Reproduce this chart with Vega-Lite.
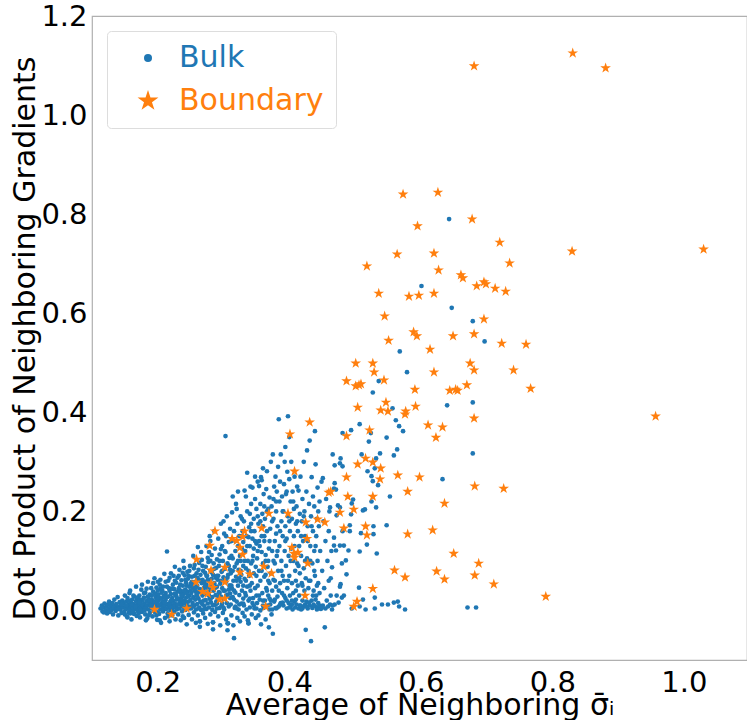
{
"$schema": "https://vega.github.io/schema/vega-lite/v6.json",
"width": 655, "height": 644,
"autosize": {"type": "none"},
"padding": {"left": 92, "top": 16, "right": 0, "bottom": 60},
"background": "white",
"config": {"view": {"stroke": "#b0b0b0", "strokeWidth": 1.2}, "font": "DejaVu Sans"},
"data": {"values": [
{"x":0.113,"y":0.004,"t":"Bulk"},{"x":0.115,"y":0.010,"t":"Bulk"},{"x":0.116,"y":-0.002,"t":"Bulk"},{"x":0.118,"y":0.006,"t":"Bulk"},{"x":0.119,"y":0.014,"t":"Bulk"},{"x":0.121,"y":0.000,"t":"Bulk"},{"x":0.122,"y":0.008,"t":"Bulk"},{"x":0.123,"y":-0.006,"t":"Bulk"},{"x":0.124,"y":0.012,"t":"Bulk"},{"x":0.125,"y":0.003,"t":"Bulk"},{"x":0.126,"y":0.018,"t":"Bulk"},{"x":0.127,"y":-0.003,"t":"Bulk"},{"x":0.128,"y":0.007,"t":"Bulk"},{"x":0.129,"y":0.011,"t":"Bulk"},{"x":0.130,"y":0.001,"t":"Bulk"},
{"x":0.131,"y":0.015,"t":"Bulk"},{"x":0.132,"y":-0.008,"t":"Bulk"},{"x":0.133,"y":0.005,"t":"Bulk"},{"x":0.134,"y":0.022,"t":"Bulk"},{"x":0.135,"y":0.009,"t":"Bulk"},{"x":0.136,"y":-0.001,"t":"Bulk"},{"x":0.137,"y":0.013,"t":"Bulk"},{"x":0.138,"y":0.004,"t":"Bulk"},{"x":0.139,"y":0.027,"t":"Bulk"},{"x":0.140,"y":-0.010,"t":"Bulk"},{"x":0.141,"y":0.008,"t":"Bulk"},{"x":0.142,"y":0.017,"t":"Bulk"},{"x":0.143,"y":0.002,"t":"Bulk"},{"x":0.144,"y":0.011,"t":"Bulk"},{"x":0.145,"y":-0.005,"t":"Bulk"},{"x":0.146,"y":0.020,"t":"Bulk"},{"x":0.147,"y":0.006,"t":"Bulk"},{"x":0.148,"y":0.014,"t":"Bulk"},{"x":0.149,"y":-0.002,"t":"Bulk"},{"x":0.150,"y":0.030,"t":"Bulk"},
{"x":0.151,"y":0.009,"t":"Bulk"},{"x":0.152,"y":0.003,"t":"Bulk"},{"x":0.152,"y":0.018,"t":"Bulk"},{"x":0.153,"y":-0.012,"t":"Bulk"},{"x":0.154,"y":0.025,"t":"Bulk"},{"x":0.155,"y":0.007,"t":"Bulk"},{"x":0.156,"y":0.012,"t":"Bulk"},{"x":0.156,"y":-0.004,"t":"Bulk"},{"x":0.157,"y":0.035,"t":"Bulk"},{"x":0.158,"y":0.001,"t":"Bulk"},{"x":0.159,"y":0.016,"t":"Bulk"},{"x":0.160,"y":0.008,"t":"Bulk"},{"x":0.160,"y":-0.018,"t":"Bulk"},{"x":0.161,"y":0.022,"t":"Bulk"},{"x":0.162,"y":0.005,"t":"Bulk"},{"x":0.163,"y":0.013,"t":"Bulk"},{"x":0.164,"y":-0.007,"t":"Bulk"},{"x":0.164,"y":0.028,"t":"Bulk"},{"x":0.165,"y":0.010,"t":"Bulk"},{"x":0.166,"y":0.002,"t":"Bulk"},{"x":0.167,"y":0.019,"t":"Bulk"},{"x":0.167,"y":0.048,"t":"Bulk"},{"x":0.168,"y":-0.011,"t":"Bulk"},{"x":0.169,"y":0.006,"t":"Bulk"},{"x":0.169,"y":0.015,"t":"Bulk"},{"x":0.170,"y":0.024,"t":"Bulk"},{"x":0.170,"y":-0.002,"t":"Bulk"},{"x":0.158,"y":0.040,"t":"Bulk"},
{"x":0.171,"y":0.011,"t":"Bulk"},{"x":0.172,"y":0.003,"t":"Bulk"},{"x":0.172,"y":0.030,"t":"Bulk"},{"x":0.173,"y":-0.014,"t":"Bulk"},{"x":0.174,"y":0.017,"t":"Bulk"},{"x":0.175,"y":0.007,"t":"Bulk"},{"x":0.175,"y":0.042,"t":"Bulk"},{"x":0.176,"y":-0.003,"t":"Bulk"},{"x":0.177,"y":0.021,"t":"Bulk"},{"x":0.178,"y":0.009,"t":"Bulk"},{"x":0.178,"y":0.001,"t":"Bulk"},{"x":0.179,"y":0.026,"t":"Bulk"},{"x":0.180,"y":0.014,"t":"Bulk"},{"x":0.181,"y":-0.008,"t":"Bulk"},{"x":0.181,"y":0.036,"t":"Bulk"},{"x":0.182,"y":0.005,"t":"Bulk"},{"x":0.183,"y":0.019,"t":"Bulk"},{"x":0.184,"y":0.010,"t":"Bulk"},{"x":0.184,"y":-0.016,"t":"Bulk"},{"x":0.185,"y":0.058,"t":"Bulk"},{"x":0.186,"y":0.002,"t":"Bulk"},{"x":0.186,"y":0.024,"t":"Bulk"},{"x":0.187,"y":0.013,"t":"Bulk"},{"x":0.188,"y":-0.005,"t":"Bulk"},{"x":0.188,"y":0.032,"t":"Bulk"},{"x":0.189,"y":0.008,"t":"Bulk"},{"x":0.190,"y":0.017,"t":"Bulk"},{"x":0.190,"y":0.045,"t":"Bulk"},{"x":0.176,"y":0.052,"t":"Bulk"},{"x":0.182,"y":-0.020,"t":"Bulk"},{"x":0.174,"y":0.000,"t":"Bulk"},{"x":0.185,"y":0.028,"t":"Bulk"},
{"x":0.191,"y":0.004,"t":"Bulk"},{"x":0.191,"y":0.022,"t":"Bulk"},{"x":0.192,"y":-0.012,"t":"Bulk"},{"x":0.193,"y":0.012,"t":"Bulk"},{"x":0.193,"y":0.038,"t":"Bulk"},{"x":0.194,"y":0.001,"t":"Bulk"},{"x":0.195,"y":0.017,"t":"Bulk"},{"x":0.195,"y":0.065,"t":"Bulk"},{"x":0.196,"y":-0.004,"t":"Bulk"},{"x":0.197,"y":0.027,"t":"Bulk"},{"x":0.197,"y":0.009,"t":"Bulk"},{"x":0.198,"y":0.046,"t":"Bulk"},{"x":0.199,"y":0.014,"t":"Bulk"},{"x":0.199,"y":-0.019,"t":"Bulk"},{"x":0.200,"y":0.006,"t":"Bulk"},{"x":0.201,"y":0.032,"t":"Bulk"},{"x":0.201,"y":0.020,"t":"Bulk"},{"x":0.202,"y":-0.007,"t":"Bulk"},{"x":0.203,"y":0.011,"t":"Bulk"},{"x":0.203,"y":0.052,"t":"Bulk"},{"x":0.204,"y":0.002,"t":"Bulk"},{"x":0.205,"y":0.024,"t":"Bulk"},{"x":0.205,"y":-0.025,"t":"Bulk"},{"x":0.206,"y":0.015,"t":"Bulk"},{"x":0.207,"y":0.040,"t":"Bulk"},{"x":0.207,"y":0.007,"t":"Bulk"},{"x":0.208,"y":-0.002,"t":"Bulk"},{"x":0.209,"y":0.029,"t":"Bulk"},{"x":0.209,"y":0.018,"t":"Bulk"},{"x":0.210,"y":0.074,"t":"Bulk"},{"x":0.210,"y":0.003,"t":"Bulk"},{"x":0.196,"y":0.034,"t":"Bulk"},{"x":0.200,"y":0.058,"t":"Bulk"},{"x":0.204,"y":0.044,"t":"Bulk"},{"x":0.198,"y":-0.010,"t":"Bulk"},{"x":0.206,"y":0.036,"t":"Bulk"},{"x":0.202,"y":0.026,"t":"Bulk"},{"x":0.208,"y":0.012,"t":"Bulk"},
{"x":0.211,"y":0.010,"t":"Bulk"},{"x":0.211,"y":-0.015,"t":"Bulk"},{"x":0.212,"y":0.035,"t":"Bulk"},{"x":0.212,"y":0.021,"t":"Bulk"},{"x":0.213,"y":0.003,"t":"Bulk"},{"x":0.214,"y":0.119,"t":"Bulk"},{"x":0.214,"y":0.048,"t":"Bulk"},{"x":0.215,"y":0.013,"t":"Bulk"},{"x":0.215,"y":-0.006,"t":"Bulk"},{"x":0.216,"y":0.028,"t":"Bulk"},{"x":0.216,"y":0.060,"t":"Bulk"},{"x":0.217,"y":0.007,"t":"Bulk"},{"x":0.218,"y":0.040,"t":"Bulk"},{"x":0.218,"y":-0.022,"t":"Bulk"},{"x":0.219,"y":0.017,"t":"Bulk"},{"x":0.219,"y":0.001,"t":"Bulk"},{"x":0.220,"y":0.033,"t":"Bulk"},{"x":0.220,"y":0.075,"t":"Bulk"},{"x":0.221,"y":0.011,"t":"Bulk"},{"x":0.222,"y":-0.010,"t":"Bulk"},{"x":0.222,"y":0.025,"t":"Bulk"},{"x":0.223,"y":0.052,"t":"Bulk"},{"x":0.223,"y":0.005,"t":"Bulk"},{"x":0.224,"y":0.019,"t":"Bulk"},{"x":0.225,"y":-0.003,"t":"Bulk"},{"x":0.225,"y":0.043,"t":"Bulk"},{"x":0.226,"y":0.014,"t":"Bulk"},{"x":0.226,"y":0.088,"t":"Bulk"},{"x":0.227,"y":0.030,"t":"Bulk"},{"x":0.227,"y":-0.018,"t":"Bulk"},{"x":0.228,"y":0.008,"t":"Bulk"},{"x":0.228,"y":0.056,"t":"Bulk"},{"x":0.229,"y":0.022,"t":"Bulk"},{"x":0.229,"y":0.002,"t":"Bulk"},{"x":0.230,"y":0.038,"t":"Bulk"},{"x":0.230,"y":0.066,"t":"Bulk"},{"x":0.213,"y":0.027,"t":"Bulk"},{"x":0.217,"y":0.045,"t":"Bulk"},{"x":0.221,"y":0.002,"t":"Bulk"},{"x":0.224,"y":0.070,"t":"Bulk"},{"x":0.218,"y":0.012,"t":"Bulk"},{"x":0.226,"y":0.034,"t":"Bulk"},
{"x":0.231,"y":0.012,"t":"Bulk"},{"x":0.231,"y":-0.008,"t":"Bulk"},{"x":0.232,"y":0.045,"t":"Bulk"},{"x":0.232,"y":0.024,"t":"Bulk"},{"x":0.233,"y":0.004,"t":"Bulk"},{"x":0.233,"y":0.082,"t":"Bulk"},{"x":0.234,"y":0.017,"t":"Bulk"},{"x":0.235,"y":-0.020,"t":"Bulk"},{"x":0.235,"y":0.036,"t":"Bulk"},{"x":0.236,"y":0.061,"t":"Bulk"},{"x":0.236,"y":0.009,"t":"Bulk"},{"x":0.237,"y":0.027,"t":"Bulk"},{"x":0.237,"y":-0.002,"t":"Bulk"},{"x":0.238,"y":0.050,"t":"Bulk"},{"x":0.238,"y":0.014,"t":"Bulk"},{"x":0.239,"y":0.100,"t":"Bulk"},{"x":0.239,"y":0.033,"t":"Bulk"},{"x":0.240,"y":0.006,"t":"Bulk"},{"x":0.240,"y":-0.015,"t":"Bulk"},{"x":0.241,"y":0.071,"t":"Bulk"},{"x":0.241,"y":0.020,"t":"Bulk"},{"x":0.242,"y":0.042,"t":"Bulk"},{"x":0.242,"y":0.001,"t":"Bulk"},{"x":0.243,"y":0.056,"t":"Bulk"},{"x":0.243,"y":0.026,"t":"Bulk"},{"x":0.244,"y":-0.028,"t":"Bulk"},{"x":0.244,"y":0.011,"t":"Bulk"},{"x":0.245,"y":0.078,"t":"Bulk"},{"x":0.245,"y":0.038,"t":"Bulk"},{"x":0.246,"y":0.004,"t":"Bulk"},{"x":0.246,"y":0.064,"t":"Bulk"},{"x":0.247,"y":0.018,"t":"Bulk"},{"x":0.247,"y":-0.009,"t":"Bulk"},{"x":0.248,"y":0.048,"t":"Bulk"},{"x":0.248,"y":0.030,"t":"Bulk"},{"x":0.249,"y":0.008,"t":"Bulk"},{"x":0.249,"y":0.090,"t":"Bulk"},{"x":0.250,"y":0.022,"t":"Bulk"},{"x":0.250,"y":0.054,"t":"Bulk"},{"x":0.234,"y":0.040,"t":"Bulk"},{"x":0.236,"y":0.020,"t":"Bulk"},{"x":0.240,"y":0.086,"t":"Bulk"},{"x":0.244,"y":0.035,"t":"Bulk"},{"x":0.238,"y":-0.012,"t":"Bulk"},{"x":0.247,"y":0.070,"t":"Bulk"},{"x":0.242,"y":0.015,"t":"Bulk"},
{"x":0.251,"y":0.005,"t":"Bulk"},{"x":0.251,"y":0.035,"t":"Bulk"},{"x":0.252,"y":-0.018,"t":"Bulk"},{"x":0.252,"y":0.068,"t":"Bulk"},{"x":0.253,"y":0.015,"t":"Bulk"},{"x":0.253,"y":0.046,"t":"Bulk"},{"x":0.254,"y":0.027,"t":"Bulk"},{"x":0.254,"y":0.110,"t":"Bulk"},{"x":0.255,"y":-0.004,"t":"Bulk"},{"x":0.255,"y":0.085,"t":"Bulk"},{"x":0.256,"y":0.010,"t":"Bulk"},{"x":0.256,"y":0.040,"t":"Bulk"},{"x":0.257,"y":0.058,"t":"Bulk"},{"x":0.257,"y":0.022,"t":"Bulk"},{"x":0.258,"y":-0.025,"t":"Bulk"},{"x":0.258,"y":0.002,"t":"Bulk"},{"x":0.259,"y":0.075,"t":"Bulk"},{"x":0.259,"y":0.032,"t":"Bulk"},{"x":0.260,"y":0.050,"t":"Bulk"},{"x":0.260,"y":0.013,"t":"Bulk"},{"x":0.261,"y":0.128,"t":"Bulk"},{"x":0.261,"y":-0.010,"t":"Bulk"},{"x":0.262,"y":0.063,"t":"Bulk"},{"x":0.262,"y":0.024,"t":"Bulk"},{"x":0.263,"y":0.096,"t":"Bulk"},{"x":0.263,"y":0.006,"t":"Bulk"},{"x":0.264,"y":0.043,"t":"Bulk"},{"x":0.264,"y":-0.022,"t":"Bulk"},{"x":0.265,"y":0.018,"t":"Bulk"},{"x":0.265,"y":0.072,"t":"Bulk"},{"x":0.266,"y":0.036,"t":"Bulk"},{"x":0.266,"y":0.001,"t":"Bulk"},{"x":0.267,"y":0.055,"t":"Bulk"},{"x":0.267,"y":0.102,"t":"Bulk"},{"x":0.268,"y":0.012,"t":"Bulk"},{"x":0.268,"y":0.030,"t":"Bulk"},{"x":0.269,"y":-0.006,"t":"Bulk"},{"x":0.269,"y":0.080,"t":"Bulk"},{"x":0.270,"y":0.045,"t":"Bulk"},{"x":0.270,"y":0.020,"t":"Bulk"},{"x":0.264,"y":-0.033,"t":"Bulk"},{"x":0.256,"y":0.092,"t":"Bulk"},{"x":0.260,"y":0.066,"t":"Bulk"},{"x":0.266,"y":0.118,"t":"Bulk"},{"x":0.253,"y":0.052,"t":"Bulk"},{"x":0.258,"y":0.038,"t":"Bulk"},{"x":0.262,"y":0.004,"t":"Bulk"},{"x":0.268,"y":0.062,"t":"Bulk"},
{"x":0.271,"y":0.009,"t":"Bulk"},{"x":0.271,"y":0.058,"t":"Bulk"},{"x":0.272,"y":-0.015,"t":"Bulk"},{"x":0.272,"y":0.034,"t":"Bulk"},{"x":0.273,"y":0.088,"t":"Bulk"},{"x":0.273,"y":0.021,"t":"Bulk"},{"x":0.274,"y":0.003,"t":"Bulk"},{"x":0.274,"y":0.130,"t":"Bulk"},{"x":0.275,"y":0.046,"t":"Bulk"},{"x":0.275,"y":0.070,"t":"Bulk"},{"x":0.276,"y":-0.027,"t":"Bulk"},{"x":0.276,"y":0.014,"t":"Bulk"},{"x":0.277,"y":0.098,"t":"Bulk"},{"x":0.277,"y":0.037,"t":"Bulk"},{"x":0.278,"y":0.006,"t":"Bulk"},{"x":0.278,"y":0.062,"t":"Bulk"},{"x":0.279,"y":0.024,"t":"Bulk"},{"x":0.279,"y":0.150,"t":"Bulk"},{"x":0.280,"y":-0.008,"t":"Bulk"},{"x":0.280,"y":0.080,"t":"Bulk"},{"x":0.281,"y":0.043,"t":"Bulk"},{"x":0.281,"y":0.016,"t":"Bulk"},{"x":0.282,"y":0.112,"t":"Bulk"},{"x":0.282,"y":0.051,"t":"Bulk"},{"x":0.283,"y":0.001,"t":"Bulk"},{"x":0.283,"y":0.027,"t":"Bulk"},{"x":0.284,"y":-0.024,"t":"Bulk"},{"x":0.284,"y":0.072,"t":"Bulk"},{"x":0.285,"y":0.040,"t":"Bulk"},{"x":0.285,"y":0.095,"t":"Bulk"},{"x":0.286,"y":0.011,"t":"Bulk"},{"x":0.286,"y":0.055,"t":"Bulk"},{"x":0.287,"y":-0.003,"t":"Bulk"},{"x":0.287,"y":0.125,"t":"Bulk"},{"x":0.288,"y":0.031,"t":"Bulk"},{"x":0.288,"y":0.066,"t":"Bulk"},{"x":0.289,"y":0.018,"t":"Bulk"},{"x":0.289,"y":0.086,"t":"Bulk"},{"x":0.290,"y":0.048,"t":"Bulk"},{"x":0.290,"y":0.004,"t":"Bulk"},{"x":0.284,"y":-0.038,"t":"Bulk"},{"x":0.276,"y":0.106,"t":"Bulk"},{"x":0.280,"y":0.140,"t":"Bulk"},{"x":0.274,"y":0.052,"t":"Bulk"},{"x":0.278,"y":0.118,"t":"Bulk"},{"x":0.286,"y":0.160,"t":"Bulk"},{"x":0.282,"y":0.077,"t":"Bulk"},{"x":0.288,"y":0.012,"t":"Bulk"},{"x":0.272,"y":0.076,"t":"Bulk"},{"x":0.290,"y":0.103,"t":"Bulk"},
{"x":0.291,"y":0.020,"t":"Bulk"},{"x":0.291,"y":0.062,"t":"Bulk"},{"x":0.292,"y":-0.012,"t":"Bulk"},{"x":0.292,"y":0.145,"t":"Bulk"},{"x":0.293,"y":0.037,"t":"Bulk"},{"x":0.293,"y":0.090,"t":"Bulk"},{"x":0.294,"y":0.005,"t":"Bulk"},{"x":0.294,"y":0.113,"t":"Bulk"},{"x":0.295,"y":0.054,"t":"Bulk"},{"x":0.295,"y":-0.030,"t":"Bulk"},{"x":0.296,"y":0.028,"t":"Bulk"},{"x":0.296,"y":0.175,"t":"Bulk"},{"x":0.297,"y":0.078,"t":"Bulk"},{"x":0.297,"y":0.010,"t":"Bulk"},{"x":0.298,"y":0.130,"t":"Bulk"},{"x":0.298,"y":0.045,"t":"Bulk"},{"x":0.299,"y":-0.005,"t":"Bulk"},{"x":0.299,"y":0.100,"t":"Bulk"},{"x":0.300,"y":0.067,"t":"Bulk"},{"x":0.300,"y":0.023,"t":"Bulk"},{"x":0.301,"y":0.155,"t":"Bulk"},{"x":0.301,"y":0.002,"t":"Bulk"},{"x":0.302,"y":0.084,"t":"Bulk"},{"x":0.302,"y":0.040,"t":"Bulk"},{"x":0.303,"y":0.352,"t":"Bulk"},{"x":0.303,"y":0.118,"t":"Bulk"},{"x":0.304,"y":-0.018,"t":"Bulk"},{"x":0.304,"y":0.058,"t":"Bulk"},{"x":0.305,"y":0.015,"t":"Bulk"},{"x":0.305,"y":0.190,"t":"Bulk"},{"x":0.306,"y":0.095,"t":"Bulk"},{"x":0.306,"y":0.032,"t":"Bulk"},{"x":0.307,"y":-0.026,"t":"Bulk"},{"x":0.307,"y":0.072,"t":"Bulk"},{"x":0.308,"y":0.138,"t":"Bulk"},{"x":0.308,"y":0.008,"t":"Bulk"},{"x":0.309,"y":0.050,"t":"Bulk"},{"x":0.309,"y":0.106,"t":"Bulk"},{"x":0.310,"y":0.025,"t":"Bulk"},{"x":0.310,"y":0.165,"t":"Bulk"},{"x":0.306,"y":-0.040,"t":"Bulk"},{"x":0.296,"y":0.124,"t":"Bulk"},{"x":0.300,"y":0.180,"t":"Bulk"},{"x":0.304,"y":0.150,"t":"Bulk"},{"x":0.292,"y":0.070,"t":"Bulk"},{"x":0.298,"y":0.014,"t":"Bulk"},{"x":0.308,"y":0.042,"t":"Bulk"},{"x":0.302,"y":0.060,"t":"Bulk"},{"x":0.294,"y":0.035,"t":"Bulk"},{"x":0.310,"y":0.082,"t":"Bulk"},
{"x":0.311,"y":0.012,"t":"Bulk"},{"x":0.311,"y":0.075,"t":"Bulk"},{"x":0.312,"y":0.140,"t":"Bulk"},{"x":0.312,"y":-0.010,"t":"Bulk"},{"x":0.313,"y":0.044,"t":"Bulk"},{"x":0.313,"y":0.198,"t":"Bulk"},{"x":0.314,"y":0.105,"t":"Bulk"},{"x":0.314,"y":0.027,"t":"Bulk"},{"x":0.315,"y":0.060,"t":"Bulk"},{"x":0.315,"y":-0.030,"t":"Bulk"},{"x":0.316,"y":-0.056,"t":"Bulk"},{"x":0.316,"y":0.160,"t":"Bulk"},{"x":0.317,"y":0.088,"t":"Bulk"},{"x":0.317,"y":0.005,"t":"Bulk"},{"x":0.318,"y":0.120,"t":"Bulk"},{"x":0.318,"y":0.036,"t":"Bulk"},{"x":0.319,"y":0.215,"t":"Bulk"},{"x":0.319,"y":0.068,"t":"Bulk"},{"x":0.320,"y":0.018,"t":"Bulk"},{"x":0.320,"y":0.095,"t":"Bulk"},{"x":0.321,"y":-0.015,"t":"Bulk"},{"x":0.321,"y":0.175,"t":"Bulk"},{"x":0.322,"y":0.050,"t":"Bulk"},{"x":0.322,"y":0.130,"t":"Bulk"},{"x":0.323,"y":0.002,"t":"Bulk"},{"x":0.323,"y":0.082,"t":"Bulk"},{"x":0.324,"y":0.031,"t":"Bulk"},{"x":0.324,"y":0.150,"t":"Bulk"},{"x":0.325,"y":-0.022,"t":"Bulk"},{"x":0.325,"y":0.110,"t":"Bulk"},{"x":0.326,"y":0.058,"t":"Bulk"},{"x":0.326,"y":0.190,"t":"Bulk"},{"x":0.327,"y":0.014,"t":"Bulk"},{"x":0.327,"y":0.072,"t":"Bulk"},{"x":0.328,"y":0.040,"t":"Bulk"},{"x":0.328,"y":0.125,"t":"Bulk"},{"x":0.329,"y":-0.005,"t":"Bulk"},{"x":0.329,"y":0.160,"t":"Bulk"},{"x":0.330,"y":0.090,"t":"Bulk"},{"x":0.330,"y":0.024,"t":"Bulk"},{"x":0.314,"y":0.230,"t":"Bulk"},{"x":0.320,"y":0.205,"t":"Bulk"},{"x":0.326,"y":0.100,"t":"Bulk"},{"x":0.312,"y":0.050,"t":"Bulk"},{"x":0.318,"y":0.008,"t":"Bulk"},{"x":0.324,"y":0.065,"t":"Bulk"},{"x":0.328,"y":0.185,"t":"Bulk"},{"x":0.316,"y":0.022,"t":"Bulk"},{"x":0.322,"y":0.240,"t":"Bulk"},{"x":0.330,"y":0.138,"t":"Bulk"},
{"x":0.331,"y":0.010,"t":"Bulk"},{"x":0.331,"y":0.180,"t":"Bulk"},{"x":0.332,"y":0.064,"t":"Bulk"},{"x":0.332,"y":-0.012,"t":"Bulk"},{"x":0.333,"y":0.120,"t":"Bulk"},{"x":0.333,"y":0.035,"t":"Bulk"},{"x":0.334,"y":0.230,"t":"Bulk"},{"x":0.334,"y":0.085,"t":"Bulk"},{"x":0.335,"y":0.002,"t":"Bulk"},{"x":0.335,"y":0.150,"t":"Bulk"},{"x":0.336,"y":0.048,"t":"Bulk"},{"x":0.336,"y":0.200,"t":"Bulk"},{"x":0.337,"y":-0.020,"t":"Bulk"},{"x":0.337,"y":0.100,"t":"Bulk"},{"x":0.338,"y":-0.026,"t":"Bulk"},{"x":0.338,"y":0.020,"t":"Bulk"},{"x":0.339,"y":0.168,"t":"Bulk"},{"x":0.339,"y":0.070,"t":"Bulk"},{"x":0.340,"y":0.130,"t":"Bulk"},{"x":0.340,"y":0.006,"t":"Bulk"},{"x":0.341,"y":0.250,"t":"Bulk"},{"x":0.341,"y":0.040,"t":"Bulk"},{"x":0.342,"y":0.095,"t":"Bulk"},{"x":0.342,"y":0.215,"t":"Bulk"},{"x":0.343,"y":-0.008,"t":"Bulk"},{"x":0.343,"y":0.055,"t":"Bulk"},{"x":0.344,"y":0.145,"t":"Bulk"},{"x":0.344,"y":0.248,"t":"Bulk"},{"x":0.345,"y":0.025,"t":"Bulk"},{"x":0.345,"y":0.110,"t":"Bulk"},{"x":0.346,"y":0.185,"t":"Bulk"},{"x":0.346,"y":0.075,"t":"Bulk"},{"x":0.347,"y":0.004,"t":"Bulk"},{"x":0.347,"y":0.160,"t":"Bulk"},{"x":0.348,"y":0.045,"t":"Bulk"},{"x":0.348,"y":0.225,"t":"Bulk"},{"x":0.349,"y":0.088,"t":"Bulk"},{"x":0.349,"y":-0.015,"t":"Bulk"},{"x":0.350,"y":0.135,"t":"Bulk"},{"x":0.350,"y":0.030,"t":"Bulk"},{"x":0.332,"y":0.242,"t":"Bulk"},{"x":0.336,"y":0.278,"t":"Bulk"},{"x":0.340,"y":0.195,"t":"Bulk"},{"x":0.344,"y":0.015,"t":"Bulk"},{"x":0.348,"y":0.270,"t":"Bulk"},{"x":0.334,"y":0.060,"t":"Bulk"},{"x":0.342,"y":0.175,"t":"Bulk"},{"x":0.346,"y":0.125,"t":"Bulk"},{"x":0.338,"y":0.148,"t":"Bulk"},{"x":0.350,"y":0.205,"t":"Bulk"},
{"x":0.351,"y":0.015,"t":"Bulk"},{"x":0.351,"y":0.105,"t":"Bulk"},{"x":0.352,"y":0.260,"t":"Bulk"},{"x":0.352,"y":0.050,"t":"Bulk"},{"x":0.353,"y":-0.010,"t":"Bulk"},{"x":0.353,"y":0.175,"t":"Bulk"},{"x":0.354,"y":0.251,"t":"Bulk"},{"x":0.354,"y":0.080,"t":"Bulk"},{"x":0.355,"y":0.130,"t":"Bulk"},{"x":0.355,"y":0.022,"t":"Bulk"},{"x":0.356,"y":0.215,"t":"Bulk"},{"x":0.356,"y":0.060,"t":"Bulk"},{"x":0.357,"y":0.269,"t":"Bulk"},{"x":0.357,"y":-0.028,"t":"Bulk"},{"x":0.358,"y":0.263,"t":"Bulk"},{"x":0.358,"y":0.150,"t":"Bulk"},{"x":0.359,"y":0.035,"t":"Bulk"},{"x":0.359,"y":0.195,"t":"Bulk"},{"x":0.360,"y":0.287,"t":"Bulk"},{"x":0.360,"y":0.095,"t":"Bulk"},{"x":0.361,"y":0.005,"t":"Bulk"},{"x":0.361,"y":0.235,"t":"Bulk"},{"x":0.362,"y":0.068,"t":"Bulk"},{"x":0.362,"y":0.140,"t":"Bulk"},{"x":0.363,"y":0.020,"t":"Bulk"},{"x":0.363,"y":0.185,"t":"Bulk"},{"x":0.364,"y":0.112,"t":"Bulk"},{"x":0.364,"y":-0.018,"t":"Bulk"},{"x":0.365,"y":0.245,"t":"Bulk"},{"x":0.365,"y":0.045,"t":"Bulk"},{"x":0.366,"y":0.281,"t":"Bulk"},{"x":0.366,"y":0.160,"t":"Bulk"},{"x":0.367,"y":0.010,"t":"Bulk"},{"x":0.367,"y":0.088,"t":"Bulk"},{"x":0.368,"y":0.205,"t":"Bulk"},{"x":0.368,"y":0.030,"t":"Bulk"},{"x":0.369,"y":-0.034,"t":"Bulk"},{"x":0.369,"y":0.125,"t":"Bulk"},{"x":0.370,"y":0.055,"t":"Bulk"},{"x":0.370,"y":0.228,"t":"Bulk"},{"x":0.352,"y":0.190,"t":"Bulk"},{"x":0.356,"y":0.000,"t":"Bulk"},{"x":0.360,"y":0.170,"t":"Bulk"},{"x":0.364,"y":0.072,"t":"Bulk"},{"x":0.358,"y":0.118,"t":"Bulk"},{"x":0.362,"y":0.210,"t":"Bulk"},{"x":0.366,"y":0.040,"t":"Bulk"},{"x":0.354,"y":0.140,"t":"Bulk"},{"x":0.368,"y":0.100,"t":"Bulk"},{"x":0.370,"y":0.002,"t":"Bulk"},
{"x":0.371,"y":0.165,"t":"Bulk"},{"x":0.371,"y":0.012,"t":"Bulk"},{"x":0.372,"y":0.300,"t":"Bulk"},{"x":0.372,"y":0.075,"t":"Bulk"},{"x":0.373,"y":0.210,"t":"Bulk"},{"x":0.373,"y":-0.008,"t":"Bulk"},{"x":0.374,"y":0.120,"t":"Bulk"},{"x":0.374,"y":0.040,"t":"Bulk"},{"x":0.375,"y":0.315,"t":"Bulk"},{"x":0.375,"y":-0.047,"t":"Bulk"},{"x":0.376,"y":0.185,"t":"Bulk"},{"x":0.376,"y":0.062,"t":"Bulk"},{"x":0.377,"y":0.250,"t":"Bulk"},{"x":0.377,"y":0.018,"t":"Bulk"},{"x":0.378,"y":0.140,"t":"Bulk"},{"x":0.378,"y":0.095,"t":"Bulk"},{"x":0.379,"y":0.270,"t":"Bulk"},{"x":0.379,"y":0.005,"t":"Bulk"},{"x":0.380,"y":0.200,"t":"Bulk"},{"x":0.380,"y":0.048,"t":"Bulk"},{"x":0.381,"y":0.110,"t":"Bulk"},{"x":0.381,"y":0.240,"t":"Bulk"},{"x":0.382,"y":0.028,"t":"Bulk"},{"x":0.382,"y":0.170,"t":"Bulk"},{"x":0.383,"y":0.080,"t":"Bulk"},{"x":0.383,"y":0.290,"t":"Bulk"},{"x":0.384,"y":0.386,"t":"Bulk"},{"x":0.384,"y":0.008,"t":"Bulk"},{"x":0.385,"y":0.220,"t":"Bulk"},{"x":0.385,"y":0.130,"t":"Bulk"},{"x":0.386,"y":0.055,"t":"Bulk"},{"x":0.386,"y":0.260,"t":"Bulk"},{"x":0.387,"y":0.315,"t":"Bulk"},{"x":0.387,"y":0.015,"t":"Bulk"},{"x":0.388,"y":0.180,"t":"Bulk"},{"x":0.388,"y":0.100,"t":"Bulk"},{"x":0.389,"y":0.035,"t":"Bulk"},{"x":0.389,"y":0.230,"t":"Bulk"},{"x":0.390,"y":0.150,"t":"Bulk"},{"x":0.390,"y":0.070,"t":"Bulk"},{"x":0.374,"y":0.002,"t":"Bulk"},{"x":0.378,"y":0.022,"t":"Bulk"},{"x":0.382,"y":0.006,"t":"Bulk"},{"x":0.386,"y":0.012,"t":"Bulk"},{"x":0.380,"y":0.155,"t":"Bulk"},{"x":0.376,"y":0.225,"t":"Bulk"},
{"x":0.391,"y":0.010,"t":"Bulk"},{"x":0.391,"y":0.200,"t":"Bulk"},{"x":0.392,"y":0.255,"t":"Bulk"},{"x":0.392,"y":0.060,"t":"Bulk"},{"x":0.393,"y":0.120,"t":"Bulk"},{"x":0.393,"y":0.300,"t":"Bulk"},{"x":0.394,"y":0.025,"t":"Bulk"},{"x":0.394,"y":0.170,"t":"Bulk"},{"x":0.395,"y":0.090,"t":"Bulk"},{"x":0.395,"y":0.235,"t":"Bulk"},{"x":0.396,"y":0.004,"t":"Bulk"},{"x":0.396,"y":0.145,"t":"Bulk"},{"x":0.397,"y":0.280,"t":"Bulk"},{"x":0.397,"y":0.045,"t":"Bulk"},{"x":0.398,"y":0.392,"t":"Bulk"},{"x":0.398,"y":0.190,"t":"Bulk"},{"x":0.399,"y":0.110,"t":"Bulk"},{"x":0.399,"y":0.015,"t":"Bulk"},{"x":0.400,"y":0.265,"t":"Bulk"},{"x":0.400,"y":0.070,"t":"Bulk"},{"x":0.401,"y":0.160,"t":"Bulk"},{"x":0.401,"y":0.030,"t":"Bulk"},{"x":0.402,"y":0.220,"t":"Bulk"},{"x":0.402,"y":0.008,"t":"Bulk"},{"x":0.403,"y":0.125,"t":"Bulk"},{"x":0.403,"y":0.300,"t":"Bulk"},{"x":0.404,"y":0.055,"t":"Bulk"},{"x":0.404,"y":0.185,"t":"Bulk"},{"x":0.405,"y":0.240,"t":"Bulk"},{"x":0.405,"y":0.002,"t":"Bulk"},{"x":0.406,"y":0.100,"t":"Bulk"},{"x":0.406,"y":0.035,"t":"Bulk"},{"x":0.407,"y":0.205,"t":"Bulk"},{"x":0.407,"y":0.150,"t":"Bulk"},{"x":0.408,"y":0.018,"t":"Bulk"},{"x":0.408,"y":0.270,"t":"Bulk"},{"x":0.409,"y":0.080,"t":"Bulk"},{"x":0.409,"y":0.006,"t":"Bulk"},{"x":0.410,"y":0.175,"t":"Bulk"},{"x":0.410,"y":0.040,"t":"Bulk"},{"x":0.394,"y":0.330,"t":"Bulk"},{"x":0.400,"y":0.350,"t":"Bulk"},{"x":0.404,"y":0.012,"t":"Bulk"},{"x":0.396,"y":0.020,"t":"Bulk"},
{"x":0.411,"y":0.210,"t":"Bulk"},{"x":0.411,"y":0.012,"t":"Bulk"},{"x":0.412,"y":0.095,"t":"Bulk"},{"x":0.412,"y":0.250,"t":"Bulk"},{"x":0.413,"y":0.050,"t":"Bulk"},{"x":0.413,"y":0.160,"t":"Bulk"},{"x":0.414,"y":0.004,"t":"Bulk"},{"x":0.414,"y":0.242,"t":"Bulk"},{"x":0.415,"y":0.130,"t":"Bulk"},{"x":0.415,"y":0.030,"t":"Bulk"},{"x":0.416,"y":0.195,"t":"Bulk"},{"x":0.416,"y":0.075,"t":"Bulk"},{"x":0.417,"y":0.010,"t":"Bulk"},{"x":0.417,"y":0.270,"t":"Bulk"},{"x":0.418,"y":0.110,"t":"Bulk"},{"x":0.418,"y":0.002,"t":"Bulk"},{"x":0.419,"y":0.180,"t":"Bulk"},{"x":0.419,"y":0.055,"t":"Bulk"},{"x":0.420,"y":0.225,"t":"Bulk"},{"x":0.420,"y":0.020,"t":"Bulk"},{"x":0.421,"y":0.140,"t":"Bulk"},{"x":0.421,"y":0.008,"t":"Bulk"},{"x":0.422,"y":0.085,"t":"Bulk"},{"x":0.422,"y":0.300,"t":"Bulk"},{"x":0.423,"y":0.040,"t":"Bulk"},{"x":0.423,"y":0.200,"t":"Bulk"},{"x":0.424,"y":0.012,"t":"Bulk"},{"x":0.424,"y":0.150,"t":"Bulk"},{"x":0.425,"y":-0.039,"t":"Bulk"},{"x":0.425,"y":0.065,"t":"Bulk"},{"x":0.426,"y":0.240,"t":"Bulk"},{"x":0.426,"y":0.018,"t":"Bulk"},{"x":0.427,"y":0.323,"t":"Bulk"},{"x":0.427,"y":0.105,"t":"Bulk"},{"x":0.428,"y":0.004,"t":"Bulk"},{"x":0.428,"y":0.170,"t":"Bulk"},{"x":0.429,"y":0.045,"t":"Bulk"},{"x":0.430,"y":0.215,"t":"Bulk"},
{"x":0.431,"y":0.343,"t":"Bulk"},{"x":0.431,"y":0.010,"t":"Bulk"},{"x":0.432,"y":0.130,"t":"Bulk"},{"x":0.432,"y":0.060,"t":"Bulk"},{"x":0.433,"y":-0.062,"t":"Bulk"},{"x":0.433,"y":0.190,"t":"Bulk"},{"x":0.434,"y":0.269,"t":"Bulk"},{"x":0.434,"y":0.020,"t":"Bulk"},{"x":0.435,"y":0.095,"t":"Bulk"},{"x":0.435,"y":0.005,"t":"Bulk"},{"x":0.436,"y":0.160,"t":"Bulk"},{"x":0.436,"y":0.230,"t":"Bulk"},{"x":0.437,"y":0.040,"t":"Bulk"},{"x":0.437,"y":0.012,"t":"Bulk"},{"x":0.438,"y":0.120,"t":"Bulk"},{"x":0.438,"y":0.210,"t":"Bulk"},{"x":0.439,"y":0.362,"t":"Bulk"},{"x":0.439,"y":0.070,"t":"Bulk"},{"x":0.440,"y":0.295,"t":"Bulk"},{"x":0.440,"y":0.008,"t":"Bulk"},{"x":0.441,"y":0.150,"t":"Bulk"},{"x":0.441,"y":0.030,"t":"Bulk"},{"x":0.442,"y":0.185,"t":"Bulk"},{"x":0.442,"y":0.002,"t":"Bulk"},{"x":0.443,"y":0.248,"t":"Bulk"},{"x":0.443,"y":0.100,"t":"Bulk"},{"x":0.444,"y":0.015,"t":"Bulk"},{"x":0.444,"y":0.055,"t":"Bulk"},{"x":0.445,"y":0.170,"t":"Bulk"},{"x":0.445,"y":0.006,"t":"Bulk"},{"x":0.446,"y":0.220,"t":"Bulk"},{"x":0.446,"y":0.035,"t":"Bulk"},
{"x":0.447,"y":0.120,"t":"Bulk"},{"x":0.448,"y":0.003,"t":"Bulk"},{"x":0.449,"y":0.260,"t":"Bulk"},{"x":0.450,"y":0.080,"t":"Bulk"},{"x":0.451,"y":0.267,"t":"Bulk"},{"x":0.451,"y":0.010,"t":"Bulk"},{"x":0.452,"y":0.180,"t":"Bulk"},{"x":0.453,"y":0.045,"t":"Bulk"},{"x":0.454,"y":-0.034,"t":"Bulk"},{"x":0.455,"y":0.140,"t":"Bulk"},{"x":0.455,"y":0.004,"t":"Bulk"},{"x":0.456,"y":0.225,"t":"Bulk"},{"x":0.457,"y":0.020,"t":"Bulk"},{"x":0.458,"y":0.100,"t":"Bulk"},{"x":0.459,"y":0.008,"t":"Bulk"},{"x":0.460,"y":0.160,"t":"Bulk"},{"x":0.460,"y":0.060,"t":"Bulk"},{"x":0.461,"y":0.200,"t":"Bulk"},{"x":0.462,"y":0.012,"t":"Bulk"},{"x":0.463,"y":0.030,"t":"Bulk"},{"x":0.464,"y":0.120,"t":"Bulk"},{"x":0.465,"y":0.002,"t":"Bulk"},
{"x":0.152,"y":0.010,"t":"Bulk"},{"x":0.155,"y":0.020,"t":"Bulk"},{"x":0.158,"y":-0.006,"t":"Bulk"},{"x":0.161,"y":0.012,"t":"Bulk"},{"x":0.163,"y":0.030,"t":"Bulk"},{"x":0.166,"y":0.008,"t":"Bulk"},{"x":0.168,"y":0.026,"t":"Bulk"},{"x":0.171,"y":-0.006,"t":"Bulk"},{"x":0.173,"y":0.022,"t":"Bulk"},{"x":0.176,"y":0.012,"t":"Bulk"},{"x":0.179,"y":0.035,"t":"Bulk"},{"x":0.181,"y":0.004,"t":"Bulk"},{"x":0.183,"y":0.044,"t":"Bulk"},{"x":0.186,"y":-0.010,"t":"Bulk"},{"x":0.188,"y":0.020,"t":"Bulk"},{"x":0.191,"y":0.030,"t":"Bulk"},{"x":0.193,"y":0.055,"t":"Bulk"},{"x":0.195,"y":0.008,"t":"Bulk"},{"x":0.198,"y":0.022,"t":"Bulk"},{"x":0.200,"y":0.040,"t":"Bulk"},{"x":0.202,"y":0.012,"t":"Bulk"},{"x":0.204,"y":0.062,"t":"Bulk"},{"x":0.206,"y":0.024,"t":"Bulk"},{"x":0.208,"y":0.048,"t":"Bulk"},{"x":0.210,"y":0.016,"t":"Bulk"},{"x":0.212,"y":0.058,"t":"Bulk"},{"x":0.214,"y":0.028,"t":"Bulk"},{"x":0.216,"y":-0.012,"t":"Bulk"},{"x":0.218,"y":0.066,"t":"Bulk"},{"x":0.220,"y":0.020,"t":"Bulk"},{"x":0.222,"y":0.044,"t":"Bulk"},{"x":0.224,"y":0.008,"t":"Bulk"},{"x":0.226,"y":0.060,"t":"Bulk"},{"x":0.228,"y":0.030,"t":"Bulk"},{"x":0.230,"y":0.012,"t":"Bulk"},{"x":0.232,"y":0.070,"t":"Bulk"},{"x":0.234,"y":0.052,"t":"Bulk"},{"x":0.236,"y":0.030,"t":"Bulk"},{"x":0.238,"y":0.076,"t":"Bulk"},{"x":0.240,"y":0.040,"t":"Bulk"},{"x":0.242,"y":0.062,"t":"Bulk"},{"x":0.244,"y":0.050,"t":"Bulk"},{"x":0.246,"y":0.028,"t":"Bulk"},{"x":0.248,"y":0.080,"t":"Bulk"},{"x":0.250,"y":0.040,"t":"Bulk"},{"x":0.252,"y":0.058,"t":"Bulk"},{"x":0.254,"y":0.008,"t":"Bulk"},{"x":0.256,"y":0.070,"t":"Bulk"},{"x":0.258,"y":0.046,"t":"Bulk"},{"x":0.260,"y":0.028,"t":"Bulk"},{"x":0.262,"y":0.082,"t":"Bulk"},{"x":0.264,"y":0.060,"t":"Bulk"},{"x":0.266,"y":0.016,"t":"Bulk"},{"x":0.268,"y":0.090,"t":"Bulk"},{"x":0.270,"y":0.034,"t":"Bulk"},{"x":0.272,"y":0.050,"t":"Bulk"},{"x":0.274,"y":0.070,"t":"Bulk"},{"x":0.276,"y":0.062,"t":"Bulk"},{"x":0.278,"y":0.030,"t":"Bulk"},{"x":0.280,"y":0.100,"t":"Bulk"},{"x":0.282,"y":0.064,"t":"Bulk"},{"x":0.284,"y":0.010,"t":"Bulk"},{"x":0.286,"y":0.084,"t":"Bulk"},{"x":0.288,"y":0.046,"t":"Bulk"},{"x":0.290,"y":0.070,"t":"Bulk"},{"x":0.292,"y":0.028,"t":"Bulk"},{"x":0.294,"y":0.100,"t":"Bulk"},{"x":0.296,"y":0.060,"t":"Bulk"},{"x":0.298,"y":0.080,"t":"Bulk"},{"x":0.300,"y":0.040,"t":"Bulk"},{"x":0.302,"y":0.120,"t":"Bulk"},{"x":0.304,"y":0.030,"t":"Bulk"},{"x":0.306,"y":0.066,"t":"Bulk"},{"x":0.308,"y":0.090,"t":"Bulk"},{"x":0.310,"y":0.050,"t":"Bulk"},{"x":0.312,"y":0.110,"t":"Bulk"},{"x":0.314,"y":0.080,"t":"Bulk"},{"x":0.316,"y":0.040,"t":"Bulk"},{"x":0.318,"y":0.140,"t":"Bulk"},{"x":0.320,"y":0.060,"t":"Bulk"},{"x":0.322,"y":0.100,"t":"Bulk"},{"x":0.324,"y":0.012,"t":"Bulk"},{"x":0.326,"y":0.080,"t":"Bulk"},{"x":0.328,"y":0.150,"t":"Bulk"},{"x":0.330,"y":0.050,"t":"Bulk"},{"x":0.332,"y":0.100,"t":"Bulk"},{"x":0.334,"y":0.030,"t":"Bulk"},{"x":0.336,"y":0.130,"t":"Bulk"},{"x":0.338,"y":0.080,"t":"Bulk"},{"x":0.340,"y":0.050,"t":"Bulk"},{"x":0.342,"y":0.160,"t":"Bulk"},{"x":0.344,"y":0.100,"t":"Bulk"},{"x":0.346,"y":0.010,"t":"Bulk"},{"x":0.348,"y":0.140,"t":"Bulk"},{"x":0.350,"y":0.070,"t":"Bulk"},{"x":0.352,"y":0.120,"t":"Bulk"},{"x":0.354,"y":0.030,"t":"Bulk"},{"x":0.356,"y":0.180,"t":"Bulk"},{"x":0.358,"y":0.080,"t":"Bulk"},{"x":0.360,"y":0.020,"t":"Bulk"},{"x":0.362,"y":0.150,"t":"Bulk"},{"x":0.364,"y":0.100,"t":"Bulk"},{"x":0.366,"y":0.200,"t":"Bulk"},{"x":0.368,"y":0.060,"t":"Bulk"},{"x":0.370,"y":0.140,"t":"Bulk"},{"x":0.372,"y":0.020,"t":"Bulk"},{"x":0.374,"y":0.180,"t":"Bulk"},{"x":0.376,"y":0.100,"t":"Bulk"},{"x":0.378,"y":0.060,"t":"Bulk"},{"x":0.380,"y":0.220,"t":"Bulk"},{"x":0.382,"y":0.120,"t":"Bulk"},{"x":0.384,"y":0.040,"t":"Bulk"},{"x":0.386,"y":0.160,"t":"Bulk"},{"x":0.388,"y":0.080,"t":"Bulk"},{"x":0.390,"y":0.200,"t":"Bulk"},{"x":0.392,"y":0.030,"t":"Bulk"},{"x":0.394,"y":0.140,"t":"Bulk"},{"x":0.396,"y":0.240,"t":"Bulk"},{"x":0.398,"y":0.060,"t":"Bulk"},{"x":0.400,"y":0.180,"t":"Bulk"},{"x":0.402,"y":0.100,"t":"Bulk"},{"x":0.404,"y":0.020,"t":"Bulk"},{"x":0.406,"y":0.220,"t":"Bulk"},{"x":0.408,"y":0.130,"t":"Bulk"},{"x":0.410,"y":0.060,"t":"Bulk"},{"x":0.412,"y":0.180,"t":"Bulk"},{"x":0.414,"y":0.090,"t":"Bulk"},{"x":0.416,"y":0.010,"t":"Bulk"},{"x":0.418,"y":0.150,"t":"Bulk"},{"x":0.420,"y":0.050,"t":"Bulk"},{"x":0.422,"y":0.190,"t":"Bulk"},{"x":0.424,"y":0.100,"t":"Bulk"},{"x":0.426,"y":0.008,"t":"Bulk"},{"x":0.428,"y":0.140,"t":"Bulk"},{"x":0.430,"y":0.060,"t":"Bulk"},{"x":0.432,"y":0.100,"t":"Bulk"},{"x":0.434,"y":0.170,"t":"Bulk"},{"x":0.436,"y":0.030,"t":"Bulk"},{"x":0.438,"y":0.080,"t":"Bulk"},{"x":0.440,"y":0.130,"t":"Bulk"},{"x":0.442,"y":0.050,"t":"Bulk"},{"x":0.444,"y":0.200,"t":"Bulk"},{"x":0.446,"y":0.010,"t":"Bulk"},
{"x":0.140,"y":0.003,"t":"Bulk"},{"x":0.145,"y":0.012,"t":"Bulk"},{"x":0.150,"y":-0.008,"t":"Bulk"},{"x":0.162,"y":-0.002,"t":"Bulk"},{"x":0.172,"y":0.016,"t":"Bulk"},{"x":0.180,"y":0.000,"t":"Bulk"},{"x":0.190,"y":0.010,"t":"Bulk"},{"x":0.200,"y":-0.004,"t":"Bulk"},{"x":0.210,"y":0.028,"t":"Bulk"},{"x":0.220,"y":0.006,"t":"Bulk"},{"x":0.230,"y":0.024,"t":"Bulk"},{"x":0.240,"y":0.016,"t":"Bulk"},{"x":0.250,"y":0.004,"t":"Bulk"},{"x":0.260,"y":0.036,"t":"Bulk"},{"x":0.270,"y":0.002,"t":"Bulk"},{"x":0.280,"y":0.022,"t":"Bulk"},{"x":0.290,"y":0.014,"t":"Bulk"},{"x":0.300,"y":0.006,"t":"Bulk"},{"x":0.310,"y":0.034,"t":"Bulk"},{"x":0.320,"y":0.004,"t":"Bulk"},{"x":0.330,"y":0.014,"t":"Bulk"},{"x":0.340,"y":0.024,"t":"Bulk"},{"x":0.350,"y":0.004,"t":"Bulk"},{"x":0.360,"y":0.010,"t":"Bulk"},{"x":0.370,"y":0.024,"t":"Bulk"},{"x":0.380,"y":0.004,"t":"Bulk"},{"x":0.390,"y":0.016,"t":"Bulk"},{"x":0.400,"y":0.006,"t":"Bulk"},{"x":0.410,"y":0.022,"t":"Bulk"},{"x":0.420,"y":0.004,"t":"Bulk"},{"x":0.430,"y":0.016,"t":"Bulk"},{"x":0.440,"y":0.022,"t":"Bulk"},{"x":0.450,"y":0.006,"t":"Bulk"},
{"x":0.579,"y":0.481,"t":"Bulk"},{"x":0.536,"y":0.463,"t":"Bulk"},{"x":0.527,"y":0.440,"t":"Bulk"},{"x":0.640,"y":0.414,"t":"Bulk"},{"x":0.679,"y":0.420,"t":"Bulk"},{"x":0.557,"y":0.408,"t":"Bulk"},{"x":0.562,"y":0.384,"t":"Bulk"},{"x":0.567,"y":0.372,"t":"Bulk"},{"x":0.573,"y":0.362,"t":"Bulk"},{"x":0.507,"y":0.376,"t":"Bulk"},{"x":0.494,"y":0.364,"t":"Bulk"},{"x":0.481,"y":0.358,"t":"Bulk"},{"x":0.521,"y":0.341,"t":"Bulk"},{"x":0.548,"y":0.349,"t":"Bulk"},{"x":0.524,"y":0.358,"t":"Bulk"},{"x":0.679,"y":0.317,"t":"Bulk"},{"x":0.564,"y":0.325,"t":"Bulk"},{"x":0.559,"y":0.313,"t":"Bulk"},{"x":0.538,"y":0.317,"t":"Bulk"},{"x":0.532,"y":0.307,"t":"Bulk"},{"x":0.510,"y":0.315,"t":"Bulk"},{"x":0.466,"y":0.315,"t":"Bulk"},{"x":0.478,"y":0.307,"t":"Bulk"},{"x":0.477,"y":0.297,"t":"Bulk"},{"x":0.469,"y":0.293,"t":"Bulk"},{"x":0.481,"y":0.291,"t":"Bulk"},{"x":0.530,"y":0.287,"t":"Bulk"},{"x":0.519,"y":0.281,"t":"Bulk"},{"x":0.525,"y":0.271,"t":"Bulk"},{"x":0.527,"y":0.261,"t":"Bulk"},{"x":0.535,"y":0.253,"t":"Bulk"},{"x":0.633,"y":0.265,"t":"Bulk"},{"x":0.469,"y":0.257,"t":"Bulk"},{"x":0.468,"y":0.246,"t":"Bulk"},{"x":0.471,"y":0.244,"t":"Bulk"},{"x":0.553,"y":0.230,"t":"Bulk"},{"x":0.525,"y":0.220,"t":"Bulk"},{"x":0.532,"y":0.208,"t":"Bulk"},{"x":0.512,"y":0.202,"t":"Bulk"},{"x":0.515,"y":0.204,"t":"Bulk"},{"x":0.497,"y":0.224,"t":"Bulk"},{"x":0.495,"y":0.216,"t":"Bulk"},{"x":0.474,"y":0.212,"t":"Bulk"},{"x":0.477,"y":0.208,"t":"Bulk"},{"x":0.462,"y":0.208,"t":"Bulk"},{"x":0.472,"y":0.192,"t":"Bulk"},{"x":0.494,"y":0.194,"t":"Bulk"},{"x":0.492,"y":0.172,"t":"Bulk"},{"x":0.492,"y":0.160,"t":"Bulk"},{"x":0.481,"y":0.160,"t":"Bulk"},{"x":0.509,"y":0.156,"t":"Bulk"},{"x":0.528,"y":0.170,"t":"Bulk"},{"x":0.528,"y":0.154,"t":"Bulk"},{"x":0.548,"y":0.172,"t":"Bulk"},{"x":0.468,"y":0.147,"t":"Bulk"},{"x":0.468,"y":0.131,"t":"Bulk"},{"x":0.477,"y":0.131,"t":"Bulk"},{"x":0.483,"y":0.131,"t":"Bulk"},{"x":0.471,"y":0.121,"t":"Bulk"},{"x":0.490,"y":0.121,"t":"Bulk"},{"x":0.507,"y":0.119,"t":"Bulk"},{"x":0.518,"y":0.133,"t":"Bulk"},{"x":0.533,"y":0.115,"t":"Bulk"},{"x":0.486,"y":0.101,"t":"Bulk"},{"x":0.480,"y":0.095,"t":"Bulk"},{"x":0.465,"y":0.087,"t":"Bulk"},{"x":0.487,"y":0.073,"t":"Bulk"},{"x":0.463,"y":0.065,"t":"Bulk"},{"x":0.478,"y":0.053,"t":"Bulk"},{"x":0.477,"y":0.048,"t":"Bulk"},{"x":0.506,"y":0.046,"t":"Bulk"},{"x":0.483,"y":0.030,"t":"Bulk"},{"x":0.480,"y":0.026,"t":"Bulk"},{"x":0.472,"y":0.030,"t":"Bulk"},{"x":0.475,"y":0.016,"t":"Bulk"},{"x":0.469,"y":0.012,"t":"Bulk"},{"x":0.466,"y":0.010,"t":"Bulk"},{"x":0.512,"y":0.022,"t":"Bulk"},{"x":0.530,"y":0.026,"t":"Bulk"},{"x":0.541,"y":0.012,"t":"Bulk"},{"x":0.550,"y":0.012,"t":"Bulk"},{"x":0.559,"y":0.016,"t":"Bulk"},{"x":0.565,"y":0.018,"t":"Bulk"},{"x":0.567,"y":0.008,"t":"Bulk"},{"x":0.576,"y":0.002,"t":"Bulk"},{"x":0.507,"y":0.008,"t":"Bulk"},{"x":0.495,"y":0.004,"t":"Bulk"},{"x":0.516,"y":0.002,"t":"Bulk"},{"x":0.530,"y":0.004,"t":"Bulk"},{"x":0.671,"y":0.006,"t":"Bulk"},{"x":0.684,"y":0.006,"t":"Bulk"},
{"x":0.643,"y":0.790,"t":"Bulk"},{"x":0.601,"y":0.655,"t":"Bulk"},{"x":0.647,"y":0.611,"t":"Bulk"},{"x":0.679,"y":0.584,"t":"Bulk"},{"x":0.697,"y":0.543,"t":"Bulk"},{"x":0.568,"y":0.523,"t":"Bulk"},
{"x":0.338,"y":-0.026,"t":"Bulk"},{"x":0.306,"y":-0.026,"t":"Bulk"},{"x":0.284,"y":-0.024,"t":"Bulk"},{"x":0.264,"y":-0.022,"t":"Bulk"},{"x":0.203,"y":-0.020,"t":"Bulk"},{"x":0.154,"y":-0.014,"t":"Bulk"},{"x":0.118,"y":-0.004,"t":"Bulk"},{"x":0.115,"y":0.006,"t":"Bulk"},
{"x":0.681,"y":1.099,"t":"Boundary"},{"x":0.831,"y":1.125,"t":"Boundary"},{"x":0.881,"y":1.095,"t":"Boundary"},{"x":0.573,"y":0.840,"t":"Boundary"},{"x":0.626,"y":0.844,"t":"Boundary"},{"x":0.678,"y":0.790,"t":"Boundary"},{"x":0.595,"y":0.776,"t":"Boundary"},{"x":0.720,"y":0.743,"t":"Boundary"},{"x":0.830,"y":0.725,"t":"Boundary"},{"x":1.030,"y":0.729,"t":"Boundary"},{"x":0.564,"y":0.719,"t":"Boundary"},{"x":0.620,"y":0.721,"t":"Boundary"},{"x":0.518,"y":0.695,"t":"Boundary"},{"x":0.735,"y":0.701,"t":"Boundary"},{"x":0.627,"y":0.687,"t":"Boundary"},{"x":0.661,"y":0.677,"t":"Boundary"},{"x":0.664,"y":0.671,"t":"Boundary"},{"x":0.685,"y":0.655,"t":"Boundary"},{"x":0.696,"y":0.663,"t":"Boundary"},{"x":0.699,"y":0.659,"t":"Boundary"},{"x":0.713,"y":0.650,"t":"Boundary"},{"x":0.729,"y":0.644,"t":"Boundary"},{"x":0.536,"y":0.640,"t":"Boundary"},{"x":0.582,"y":0.634,"t":"Boundary"},{"x":0.597,"y":0.636,"t":"Boundary"},{"x":0.620,"y":0.640,"t":"Boundary"},{"x":0.545,"y":0.594,"t":"Boundary"},{"x":0.696,"y":0.588,"t":"Boundary"},{"x":0.589,"y":0.562,"t":"Boundary"},{"x":0.594,"y":0.554,"t":"Boundary"},{"x":0.551,"y":0.545,"t":"Boundary"},{"x":0.649,"y":0.554,"t":"Boundary"},{"x":0.681,"y":0.558,"t":"Boundary"},{"x":0.723,"y":0.539,"t":"Boundary"},{"x":0.760,"y":0.537,"t":"Boundary"},{"x":0.614,"y":0.527,"t":"Boundary"},
{"x":0.501,"y":0.499,"t":"Boundary"},{"x":0.527,"y":0.499,"t":"Boundary"},{"x":0.675,"y":0.499,"t":"Boundary"},{"x":0.529,"y":0.481,"t":"Boundary"},{"x":0.681,"y":0.485,"t":"Boundary"},{"x":0.741,"y":0.485,"t":"Boundary"},{"x":0.620,"y":0.481,"t":"Boundary"},{"x":0.487,"y":0.463,"t":"Boundary"},{"x":0.501,"y":0.453,"t":"Boundary"},{"x":0.506,"y":0.455,"t":"Boundary"},{"x":0.509,"y":0.457,"t":"Boundary"},{"x":0.544,"y":0.465,"t":"Boundary"},{"x":0.591,"y":0.446,"t":"Boundary"},{"x":0.644,"y":0.444,"t":"Boundary"},{"x":0.653,"y":0.446,"t":"Boundary"},{"x":0.656,"y":0.444,"t":"Boundary"},{"x":0.670,"y":0.455,"t":"Boundary"},{"x":0.767,"y":0.448,"t":"Boundary"},{"x":0.547,"y":0.420,"t":"Boundary"},{"x":0.504,"y":0.410,"t":"Boundary"},{"x":0.539,"y":0.404,"t":"Boundary"},{"x":0.550,"y":0.402,"t":"Boundary"},{"x":0.577,"y":0.402,"t":"Boundary"},{"x":0.576,"y":0.396,"t":"Boundary"},{"x":0.592,"y":0.412,"t":"Boundary"},{"x":0.611,"y":0.374,"t":"Boundary"},{"x":0.633,"y":0.370,"t":"Boundary"},{"x":0.623,"y":0.349,"t":"Boundary"},{"x":0.681,"y":0.388,"t":"Boundary"},{"x":0.522,"y":0.364,"t":"Boundary"},{"x":0.487,"y":0.352,"t":"Boundary"},{"x":0.516,"y":0.307,"t":"Boundary"},{"x":0.504,"y":0.295,"t":"Boundary"},{"x":0.527,"y":0.299,"t":"Boundary"},{"x":0.539,"y":0.287,"t":"Boundary"},{"x":0.487,"y":0.269,"t":"Boundary"},{"x":0.538,"y":0.265,"t":"Boundary"},{"x":0.565,"y":0.273,"t":"Boundary"},{"x":0.598,"y":0.269,"t":"Boundary"},{"x":0.580,"y":0.240,"t":"Boundary"},{"x":0.682,"y":0.251,"t":"Boundary"},{"x":0.726,"y":0.246,"t":"Boundary"},{"x":0.463,"y":0.240,"t":"Boundary"},{"x":0.489,"y":0.230,"t":"Boundary"},{"x":0.527,"y":0.230,"t":"Boundary"},{"x":0.636,"y":0.216,"t":"Boundary"},{"x":0.498,"y":0.204,"t":"Boundary"},{"x":0.477,"y":0.198,"t":"Boundary"},{"x":0.483,"y":0.166,"t":"Boundary"},{"x":0.516,"y":0.170,"t":"Boundary"},{"x":0.518,"y":0.152,"t":"Boundary"},{"x":0.580,"y":0.154,"t":"Boundary"},{"x":0.618,"y":0.162,"t":"Boundary"},{"x":0.650,"y":0.115,"t":"Boundary"},{"x":0.688,"y":0.095,"t":"Boundary"},{"x":0.560,"y":0.081,"t":"Boundary"},{"x":0.576,"y":0.067,"t":"Boundary"},{"x":0.624,"y":0.079,"t":"Boundary"},{"x":0.636,"y":0.063,"t":"Boundary"},{"x":0.682,"y":0.071,"t":"Boundary"},{"x":0.711,"y":0.053,"t":"Boundary"},{"x":0.790,"y":0.028,"t":"Boundary"},{"x":0.527,"y":0.044,"t":"Boundary"},{"x":0.503,"y":0.018,"t":"Boundary"},{"x":0.498,"y":0.008,"t":"Boundary"},{"x":0.957,"y":0.392,"t":"Boundary"},
{"x":0.431,"y":0.380,"t":"Boundary"},{"x":0.401,"y":0.356,"t":"Boundary"},{"x":0.408,"y":0.281,"t":"Boundary"},{"x":0.460,"y":0.238,"t":"Boundary"},{"x":0.369,"y":0.196,"t":"Boundary"},{"x":0.398,"y":0.196,"t":"Boundary"},{"x":0.443,"y":0.184,"t":"Boundary"},{"x":0.454,"y":0.178,"t":"Boundary"},{"x":0.425,"y":0.178,"t":"Boundary"},{"x":0.358,"y":0.166,"t":"Boundary"},{"x":0.427,"y":0.145,"t":"Boundary"},{"x":0.332,"y":0.160,"t":"Boundary"},{"x":0.320,"y":0.141,"t":"Boundary"},{"x":0.313,"y":0.145,"t":"Boundary"},{"x":0.329,"y":0.149,"t":"Boundary"},{"x":0.325,"y":0.127,"t":"Boundary"},{"x":0.329,"y":0.113,"t":"Boundary"},{"x":0.404,"y":0.127,"t":"Boundary"},{"x":0.407,"y":0.115,"t":"Boundary"},{"x":0.413,"y":0.117,"t":"Boundary"},{"x":0.408,"y":0.107,"t":"Boundary"},{"x":0.428,"y":0.095,"t":"Boundary"},{"x":0.361,"y":0.089,"t":"Boundary"},{"x":0.373,"y":0.075,"t":"Boundary"},{"x":0.325,"y":0.077,"t":"Boundary"},{"x":0.340,"y":0.073,"t":"Boundary"},{"x":0.424,"y":0.030,"t":"Boundary"},{"x":0.364,"y":0.008,"t":"Boundary"},{"x":0.287,"y":0.160,"t":"Boundary"},{"x":0.279,"y":0.131,"t":"Boundary"},{"x":0.259,"y":0.103,"t":"Boundary"},{"x":0.281,"y":0.081,"t":"Boundary"},{"x":0.258,"y":0.057,"t":"Boundary"},{"x":0.268,"y":0.038,"t":"Boundary"},{"x":0.276,"y":0.034,"t":"Boundary"},{"x":0.284,"y":0.046,"t":"Boundary"},{"x":0.281,"y":0.055,"t":"Boundary"},{"x":0.302,"y":0.087,"t":"Boundary"},{"x":0.302,"y":0.057,"t":"Boundary"},{"x":0.294,"y":0.022,"t":"Boundary"},{"x":0.302,"y":0.024,"t":"Boundary"},{"x":0.195,"y":0.002,"t":"Boundary"},{"x":0.221,"y":-0.008,"t":"Boundary"},{"x":0.244,"y":0.004,"t":"Boundary"}
]},
"mark": {"type": "point", "filled": true, "opacity": 1, "strokeWidth": 0},
"encoding": {
  "x": {"field": "x", "type": "quantitative",
        "scale": {"domain": [0.1, 1.096], "nice": false, "zero": false},
        "axis": {"title": "Average of Neighboring σ̄ᵢ", "values": [0.2, 0.4, 0.6, 0.8, 1.0], "format": ".1f",
                 "grid": false, "ticks": false, "domain": false, "labelFontSize": 29, "titleFontSize": 30,
                 "titleFontWeight": "normal", "labelColor": "black", "titleColor": "black",
                 "labelPadding": 8, "titlePadding": -7, "labelFlush": false, "labelOverlap": false, "labelBound": false,
                 "labelFont": "DejaVu Sans", "titleFont": "DejaVu Sans"}},
  "y": {"field": "y", "type": "quantitative",
        "scale": {"domain": [-0.1, 1.2], "nice": false, "zero": false},
        "axis": {"title": "Dot Product of Neighboring Gradients", "values": [0, 0.2, 0.4, 0.6, 0.8, 1.0, 1.2], "format": ".1f",
                 "grid": false, "ticks": false, "domain": false, "labelFontSize": 29, "titleFontSize": 30,
                 "titleFontWeight": "normal", "labelColor": "black", "titleColor": "black",
                 "labelPadding": 5, "titlePadding": 0, "labelFlush": false, "labelOverlap": false, "labelBound": false,
                 "labelFont": "DejaVu Sans", "titleFont": "DejaVu Sans"}},
  "color": {"field": "t", "type": "nominal",
            "scale": {"domain": ["Bulk", "Boundary"], "range": ["#1f77b4", "#ff7f0e"]},
            "legend": {"title": null, "orient": "none", "legendX": 15, "legendY": 15,
                       "labelFontSize": 30, "labelFont": "DejaVu Sans", "padding": 12, "rowPadding": 13,
                       "strokeColor": "#dddddd", "cornerRadius": 4, "fillColor": "white",
                       "symbolOffset": 14, "labelOffset": 16, "symbolStrokeWidth": 0,
                       "labelColor": {"expr": "datum.value === 'Bulk' ? '#1f77b4' : '#ff7f0e'"},
                       "symbolSize": {"expr": "datum.value === 'Bulk' ? 64 : 480"}}},
  "shape": {"field": "t", "type": "nominal",
            "scale": {"domain": ["Bulk", "Boundary"], "range": ["circle", "M0,-1L0.225,-0.309L0.951,-0.309L0.363,0.118L0.588,0.809L0,0.382L-0.588,0.809L-0.363,0.118L-0.951,-0.309L-0.225,-0.309Z"]},
            "legend": {"title": null, "orient": "none", "legendX": 15, "legendY": 15,
                       "labelFontSize": 30, "labelFont": "DejaVu Sans", "padding": 12, "rowPadding": 13,
                       "strokeColor": "#dddddd", "cornerRadius": 4, "fillColor": "white",
                       "symbolOffset": 14, "labelOffset": 16, "symbolStrokeWidth": 0,
                       "labelColor": {"expr": "datum.value === 'Bulk' ? '#1f77b4' : '#ff7f0e'"},
                       "symbolSize": {"expr": "datum.value === 'Bulk' ? 64 : 480"}}},
  "size": {"condition": {"test": "datum.t === 'Bulk'", "value": 22}, "value": 125}
}
}
